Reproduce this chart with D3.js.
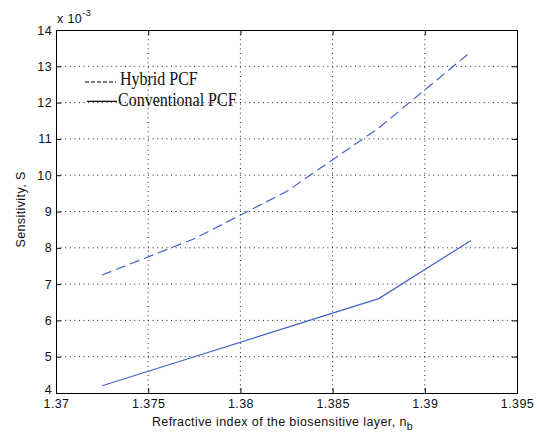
<!DOCTYPE html>
<html>
<head>
<meta charset="utf-8">
<script src="https://cdn.jsdelivr.net/npm/d3@7"></script>
<style>
  html, body { margin: 0; padding: 0; background: #fff; }
  svg { display: block; }
  text.sans { font-family: "Liberation Sans", Arial, sans-serif; letter-spacing: 0.4px; }
  text.serif { font-family: "Liberation Serif", "Times New Roman", serif; }
</style>
</head>
<body>
<svg id="chart" width="539" height="435"></svg>
<script>
// ---- data ----
const refractiveIndex = [1.3725, 1.3775, 1.3825, 1.3875, 1.3925];
const hybridPCF = [7.25, 8.25, 9.55, 11.3, 13.4];          // x 10^-3
const conventionalPCF = [4.2, 5.0, 5.8, 6.6, 8.2];        // x 10^-3
const xTickValues = [1.37, 1.375, 1.38, 1.385, 1.39, 1.395];
const xTickLabels = ["1.37", "1.375", "1.38", "1.385", "1.39", "1.395"];
const yTickValues = [4, 5, 6, 7, 8, 9, 10, 11, 12, 13, 14];
const seriesNames = ["Hybrid PCF", "Conventional PCF"];

(function () {
// ---- layout ----
const svg = d3.select("#chart");
const X0 = 56, X1 = 517, Y0 = 30, Y1 = 393;
const x = d3.scaleLinear().domain([1.37, 1.395]).range([X0, X1]);
const y = d3.scaleLinear().domain([4, 14]).range([Y1, Y0]);

// grid
const grid = svg.append("g");
xTickValues.slice(1, -1).forEach(v => {
  grid.append("line").attr("x1", x(v)).attr("x2", x(v)).attr("y1", Y0).attr("y2", Y1)
    .attr("stroke", "#222").attr("stroke-width", 1).attr("stroke-dasharray", "1,3.6");
});
yTickValues.slice(1, -1).forEach(v => {
  grid.append("line").attr("x1", X0).attr("x2", X1).attr("y1", y(v)).attr("y2", y(v))
    .attr("stroke", "#222").attr("stroke-width", 1).attr("stroke-dasharray", "1,3.6");
});

// axes
const fmtX = d => xTickLabels[xTickValues.indexOf(d)];
const axBottom = svg.append("g").attr("transform", `translate(0,${Y1})`)
  .call(d3.axisBottom(x).tickValues(xTickValues).tickFormat(fmtX).tickSize(-5).tickPadding(6.5));
const axTop = svg.append("g").attr("transform", `translate(0,${Y0})`)
  .call(d3.axisTop(x).tickValues(xTickValues).tickFormat("").tickSize(-5));
const axLeft = svg.append("g").attr("transform", `translate(${X0},0)`)
  .call(d3.axisLeft(y).tickValues(yTickValues).tickFormat(d3.format("d")).tickSize(-5).tickPadding(4));
const axRight = svg.append("g").attr("transform", `translate(${X1},0)`)
  .call(d3.axisRight(y).tickValues(yTickValues).tickFormat("").tickSize(-5));

[axBottom, axTop, axLeft, axRight].forEach(g => {
  g.attr("font-family", null).attr("font-size", null);
  g.select(".domain").attr("stroke", "#000").attr("stroke-width", 1);
  g.selectAll(".tick line").attr("stroke", "#000");
  g.selectAll("text").attr("class", "sans").style("font-size", "12.5px").attr("fill", "#111");
});
// keep the lowest y label clear of the first x label
axLeft.selectAll(".tick").filter(d => d === 4).select("text").attr("dy", "0.05em");

// multiplier
const mult = svg.append("text").attr("class", "sans").attr("x", X0 + 1).attr("y", 23)
  .style("font-size", "12.5px").attr("fill", "#111");
mult.append("tspan").text("x 10");
mult.append("tspan").attr("dy", -7).style("font-size", "9px").text("-3");

// axis labels
const xl = svg.append("text").attr("class", "sans").attr("x", (X0 + X1) / 2 - 4).attr("y", 426)
  .attr("text-anchor", "middle").style("font-size", "12.5px").attr("fill", "#111");
xl.append("tspan").text("Refractive index of the biosensitive layer, n");
xl.append("tspan").attr("dy", 4).style("font-size", "10.5px").text("b");

svg.append("text").attr("class", "sans")
  .attr("transform", `translate(25,${(Y0 + Y1) / 2 - 2}) rotate(-90)`)
  .attr("text-anchor", "middle").style("font-size", "12.5px").attr("fill", "#111")
  .text("Sensitivity, S");

// lines
const line = d3.line().x(d => x(d[0])).y(d => y(d[1]));
const lineColor = "#4262c8";
svg.append("path").datum(refractiveIndex.map((r, i) => [r, hybridPCF[i]]))
  .attr("d", line).attr("fill", "none").attr("stroke", lineColor)
  .attr("stroke-width", 1.2).attr("stroke-dasharray", "10,5");
svg.append("path").datum(refractiveIndex.map((r, i) => [r, conventionalPCF[i]]))
  .attr("d", line).attr("fill", "none").attr("stroke", lineColor)
  .attr("stroke-width", 1.2);

// legend
const lg = svg.append("g");
lg.append("line").attr("x1", 85).attr("x2", 116).attr("y1", 82).attr("y2", 82)
  .attr("stroke", "#000").attr("stroke-width", 1).attr("stroke-dasharray", "4,2");
lg.append("text").attr("class", "serif").attr("transform", "translate(120,85.3) scale(1,1.12)")
  .style("font-size", "16px").attr("fill", "#111").text(seriesNames[0]);
lg.append("line").attr("x1", 87).attr("x2", 117).attr("y1", 101.3).attr("y2", 101.3)
  .attr("stroke", "#000").attr("stroke-width", 1.2);
lg.append("text").attr("class", "serif").attr("transform", "translate(118,105.5) scale(1,1.12)")
  .style("font-size", "16px").attr("fill", "#111").text(seriesNames[1]);
})();
</script>
</body>
</html>
